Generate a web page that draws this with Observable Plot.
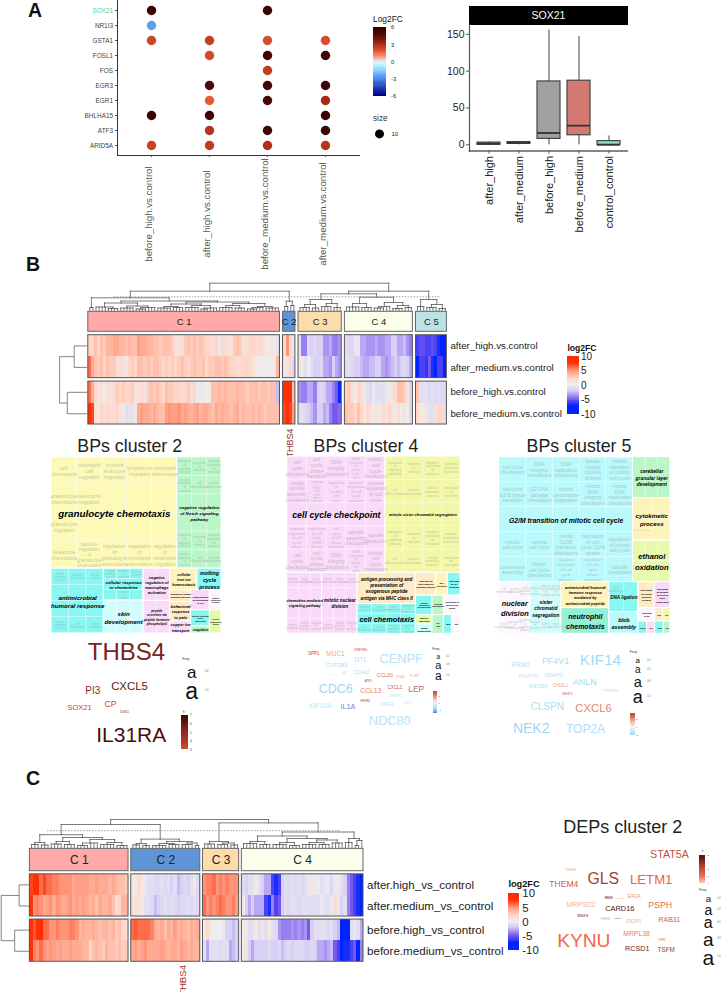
<!DOCTYPE html>
<html><head><meta charset="utf-8">
<script src="https://cdn.jsdelivr.net/npm/d3@7"></script>
<script src="https://cdn.jsdelivr.net/npm/@observablehq/plot@0.6"></script>
<style>
html,body{margin:0;padding:0;background:#fff}
#page{position:relative;width:723px;height:992px;overflow:hidden;font-family:"Liberation Sans",Arial,sans-serif}
#page svg{position:absolute;left:0;top:0;background:transparent;font-family:"Liberation Sans",Arial,sans-serif;pointer-events:none}
.lab{position:absolute;white-space:nowrap;line-height:1}
</style></head><body><div id="page"></div>
<script>
// ---------- Panel A data
const genes=["SOX21","NR1I3","GSTA1","FOSL1","FOS","EGR3","EGR1","BHLHA15","ATF3","ARID5A"];
const contrasts=["before_high.vs.control","after_high.vs.control","before_medium.vs.control","after_medium.vs.control"];
const beforeHighFC=[5.5,-2.6,2.2,null,null,null,null,5.5,null,2.3];
const afterHighFC=[null,null,2.4,2.1,null,4.8,1.7,5.4,2.7,2.5];
const beforeMediumFC=[5.5,null,2,5.3,2.5,5.2,5,null,5.3,2.8];
const afterMediumFC=[null,null,2,5.3,null,5.3,3,5.5,5.3,2.7];
const boxGroups=["after_high","after_medium","before_high","before_medium","control_control"];
const boxLo=[0,0,0,0,0],boxQ1=[0,1.5,8,13,0],boxMed=[1.5,2.5,16,26,0],boxQ3=[3,3.7,86,87,5],boxHi=[4,4,156,147,12];
const boxFill=["#999","#999","#a0a0a0","#d57a72","#8fe3b4"];
// ---------- Panel B data
const rowsB=["after_high.vs.control","after_medium.vs.control","before_high.vs.control","before_medium.vs.control"];
const clusterNamesB=["C 1","C 2","C 3","C 4","C 5"];
const b_c1=[
[2,2,3,2,3,2.5,3.5,3.5,4,4,3.5,3.5,3,3.5,3,3,4.5,4,4,3.5,3.5,3,3,2.5,3,3,3,2.5,1,1,1.5,2.5,3,2.5,3,2.5,3,2.5,2,2,1.5,2,-.5,2,1.5,1,1,2.5,3,2.5,1,1.5,2,2,1.5,2,1.5,.8,.5,.8,.5,-.8],
[6,4,3,2.5,3,2,3,2.5,2.5,1,1.5,1,.8,2,2.5,2,3,3,2.5,3,2.5,3,3,2.5,2,2.5,2,2.5,2,2.5,3,2.5,2,2.5,3,2.5,2.5,3,2,2.5,2.5,3,3,2.5,3,2.5,2,2,1.5,1.5,2,2,1.5,1,.3,.3,.2,.3,.2,.2,.3,3.5],
[6,4,2,.8,1,.5,1,1,2,2.5,2,2.5,2,2,2.5,1,1,1.5,1,2.5,3,2.5,3,2.5,2,3,2.5,2.5,2,2,1.5,2,2.5,1.5,2,-.3,-.5,.5,0,.5,3,3,3.5,3,3.5,3,3,3,3.5,3,3,2.5,3,3,3,2.5,3,3,2.5,3,3,-2.5],
[9,7,1,.8,2,1.5,2,1.5,1.5,2,1,.5,-1,-.8,1.5,-.5,4,4.5,4,4,3.5,4,3.5,3,3,4.5,5,4.5,4.5,5,4,4.5,4,3.5,4,4.5,3.5,4,4,3.5,3,4,3.5,4,3.5,3.5,3,3.5,4,3,3.5,3,3,3.5,3,3.5,3,2.5,3,3,3,3]];
const b_c2=[[1.5,5,2,-.5],[.5,1,2,-1.5],[7.5,8.5,8,3],[7,8,7,4.5]];
const b_c3=[
[-1,-4,-4,-1.5,-2,-1.5,-2,-2,-3.5,-3.5,-3,-4,-4,-3.5],
[-.5,.5,-1,0,-1,-2,-2,-1.5,-3,-3,-3.5,-2,-3,-3.5],
[-3.5,-4,-4,-3,-3,-4,-2,-1.5,-2,-3,-3,-4,-5,-9],
[-1,-1,-1.5,-2,-2.5,-3.5,-2,-2,-3,-2.5,-4,-5,-5,-4.5]];
const b_c4=[
[-1,-1.5,-1.5,-.5,-.5,-3,-3,-3.5,-3.5,-3.5,-3,-3.5,-3.5,-3,-3,-2,-2,-3,-3,-2.5,-3.5,-4],
[-1,-1,-1.5,-2,-2,-2.5,-3,-3,-2.5,-2.5,-2,-2,-3,-3.5,-3,-2.5,-2,-2.5,-2,-1.5,-2,-3],
[2,2.5,1,.5,2,1.5,-.5,-1,-1.5,-.5,-1,-1,-1,-.5,.5,1,1.5,3,3,2.5,1,-1.5],
[3,2.5,2.5,2,3,2,.5,2,1,.5,1,.5,1.5,1,2,1,.5,1.5,.5,1,0,-1.5]];
const b_c5=[
[-6,-5.5,-5.5,-6,-6,-5.5,-6,-7,-9,-8],
[-9,-6,-6,-6.5,-5,-7,-9,-6,-6,-9],
[3,-1,-1,-1,-1.5,-1,-1.5,-1,-1.5,-1.5],
[2,.5,.5,1,-1,-1,1,2,2,-1]];
// dendrograms: [height, child, child...]; a plain number is that many leaves
const treeB=[27.3,[19.3,[12.7,[3,2],[9.5,[7.5,[3.5,4,[2,2,2]],[4.5,[2.5,3,2],[3,[1.5,2,2],3]]],[8.5,[6.5,[4,[2.5,2,3],[3,2,2]],[5,[3,3,2],[2.5,[1.5,2,1],3]]],[7,[5,[3,2,3],[2.5,2,2]],[4,[3,[1.5,2,2],2],[2.5,3,2]]]]]],[9.3,[4,2],[5,2]]],[19.3,[16.7,[11,[6,[3,2,2],[2.5,2,1]],[7,[4,2,2],[3,1,2]]],[13.3,[7,[3.5,3,2],[3,2,2]],[8,[4,[2.5,2,2],2],[5,[2,2,2],[3,2,1]]]]],[11,[4,2,1],[6,[3,2,2],[2,2,1]]]]];
const sideTreeB=[27.6,[13,1,1],[19.9,1,1]];
// ---------- Panel C data
const rowsC=["after.high_vs_control","after.medium_vs_control","before.high_vs_control","before.medium_vs_control"];
const clusterNamesC=["C 1","C 2","C 3","C 4"];
const c_c1=[
[7,8,8,6,7,6,6,5.5,5.5,5,5,5,5,4,4.5,4.5,4.5,4.5,4,4,4.5,4,4,4,3.5,4,3.5,3,3,2.5],
[8,5,5.5,5,4,4.5,5,4,5,4.5,4,4.5,5,4,4.5,4,4.5,4,3.5,4,3,4,3.5,3.5,4,3,1.5,2,3.5,3.5],
[8,6.5,8,9,6,6,5,5,5.5,5,5,5,5.5,5.5,5,3.5,4,3.5,3.5,4,3.5,3,3.5,3.5,3,3.5,2.5,3,2,1.5],
[8,5.5,5,6,5,4.5,5,4.5,4,4.5,4,4,4.5,4,4,4,3.5,3.5,2,3,3.5,3,2.5,3.5,3,3,2.5,3,2.5,2.5]];
const c_c2=[
[.5,.5,1.5,.5,-.5,-1,-1,-1.5,-1.5,-1,-1.5,-1,-2,-1,-2.5,-2,-1.5,-2,-1,.5,-1.5],
[1,1,1,.5,-1,-1,-1.5,-2.5,-2,-1.5,-1,-1.5,-1,-1.5,-2,-1.5,-1.5,-1,-1.5,-1,-1.5],
[6,6.5,6,6,6,6,5.5,4,3.5,4,3,4,3.5,4.5,3.5,4,3.5,3,4,3.5,4],
[4,4.5,4,4.5,5,4,4,4,4,4.5,4,3.5,4,4,3.5,4.5,4,3.5,4,3.5,3.5]];
const c_c3=[
[5,5.5,5.5,6,5,5.5,5,5.5,5,5,5],
[6,5,5.5,5,5.5,6,5.5,5,5,5.5,4.5],
[.5,2,.5,0,0,0,-.5,-2,-2,-2.5,-2],
[-1,-3,-1,-1,-1,-1.5,-1,-1,-3,-2.5,-2]];
const c_c4=[
[-1.5,-2,-1,-1,.5,-1,-2,-3,-3,-6,-7,-6,-2,-1,-1.5,-1,-1.5,-1,-1.5,-1,-.5,.8,-.5,.5,-1,-.5,-.5,-1.5,-.5,.5,-1,-2,-4,-5,-6,-7,-9],
[.5,-2,-3,-2,-3,-3,-3,-6,-7,-4,-6,-5,-2,-1,-1.5,-1,-1,-1.5,-1,-1,-1,-1,-1,-1,-.5,-1,-1,-.5,1.5,-.5,-2,-1,-4,-5,-6,-7,-9],
[.5,-.5,-1,-1,.5,-1,1,-1,.5,-1,-1.5,-3.5,-4,-4,-4,-3.5,-4,-3.5,-4,-3.5,-5,-2,-1,-1,-1,-1,-1.5,-1,-2,-2.5,-9,-9,-9,-1,-.5,-1,-3],
[.5,1,-2,-3,-2,-2,-2,-2,-1.5,-2,-2,-1.5,-2.5,-2,-1.5,-2,-1.5,-1.5,-1.5,-2,-2,-1.5,-2,-3,-3,-3.5,-3,-2.5,-5,-6,-8,-7,-7,-6,-5,-9,-4]];
const treeC=[28,[23,[12.8,[5,[3,2,1],[2.5,2,1]],[10,[6,[3.5,2,2],[3,2,2]],[8,[4.5,[2,2,2],3],[5,[3,3,2],[2,2,2]]]]],[8.4,[4,[2.5,2,1],[2,2,1]],[6,[4,[2,3,2],[3,2,2]],[4.5,[3,2,2],[2,1,1]]]]],[24.6,[6,[3.5,2,2],[4.5,[3,2,2],[2.5,2,1]]],[15.5,[11.5,[6,[4,3,2],[3,2,2]],[9,[5,[3,3,2],[2,2,2]],[7.5,[5,[3,3,2],[3,2,2]],[4.5,2,2]]]],[9,[5,2,1],[7,[2,1,1],1]]]]];
const sideTreeC=[28,[10.1,1,1],[14.5,1,1]];
const clusterFills=["#ffa9a9","#5f94d6","#fcdcab","#fbfeea","#bbe3e6"];
// ---------- word clouds
const cl2Words=["THBS4","IL31RA","CXCL5","PI3","SOX21","CP","DLK1"];
const cl2X=[56,60.7,59,22.3,9,40,54],cl2Y=[11.7,95,45.7,50.7,67,64,71.7];
const cl2Size=[24,21,11.4,10,7.5,8.7,3.5],cl2Fc=[5.4,6.5,6,5,3.4,3,5.5];
const cl4Words=["SPP1","MUC1","ZNF385","DTL","CENPF","CYP1B1","CCNA2","CCL20","PDIA2","PLAT","CDC6","CCL13","CXCL1","LEP","CENPK","ATF5","EPHB1","KIF18A","IL1A","KIF11","KIF15","NDC80","UC","SIM"];
const cl4X=[13.3,35,60.3,60.3,100.7,36,60.7,84.3,100,114,35.3,70.3,94.3,115.7,94,67.7,65,19.7,47.3,86.7,107.7,89.3,44,33.3];
const cl4Y=[12.7,13.3,9,19.3,18,25,31.7,35,36.3,35.7,48.3,50.7,47.3,48.7,55.7,40.3,60.7,65.7,65.7,64,62.7,80,33,33.7];
const cl4Size=[4.6,6.5,3.6,7,12.8,5.8,4.6,5.2,3,4,12.5,6.8,4.6,8.4,3.6,3,3,6.8,7.2,5,3,12.7,3,2.5];
const cl4Fc=[3,1.5,3.3,-1.6,-1.4,-1.7,-1.6,2.4,1.4,1.4,-2,2,3,2.7,-1.5,3.5,3.6,-1.3,-3,-1.6,-1.4,-1.4,1.3,-1.2];
const cl5Words=["KIF14","PF4V1","RRM2","PKMYT1","IQGAP3","ANLN","KIF20A","CHI3L1","PTPRN","NDST1","CLSPN","CXCL6","NEK2","TOP2A"];
const cl5X=[90,45,10,18.3,43,74.3,28,49.7,100,57.3,36.7,83,20.7,75],cl5Y=[10,10.7,14.3,26,25.3,31.7,36,34.7,40,43.3,56.3,57.7,78.3,79];
const cl5Size=[15.5,8.9,6.5,5,4.8,9,5.5,4.6,4.3,3.2,10,11.3,14,12],cl5Fc=[-1.8,-1.7,-1.6,-1.4,-1.6,-1.9,-1.7,1.6,-1.7,3.2,-1.7,2,-2,-1.7];
const depWords=["STAT5A","THBS4","THEM4","GLS","LETM1","MRPS22","RBM3","DPY30","EIF2A","CARD16","PSPH","SNX9","FGFR1","RBMX","DDX5","RAB31","KYNU","MRPL38","TXP1","RCSD1","TSFM"];
const depX=[109,10,3.3,42.7,90.7,20.3,48.3,59,73.7,59.3,99.7,22,45.3,57.7,73.7,109,23.3,76,101.3,76.7,105.7];
const depY=[4.3,19,33.7,28.7,29,53.7,47.3,48,46,58,54.3,65.3,68.3,67.3,70.3,69,90,83.3,89.3,98,99.3];
const depSize=[10.7,3.6,8.6,15.8,13.2,7.3,3,2.5,4.6,7.4,8.8,4.3,3,2.5,5.6,6.9,19.2,6.8,3,7.2,6.4];
const depFc=[3,1.4,2.6,3.5,2.2,1.2,5,1.5,1.6,5,2.1,4.5,1.5,3.7,1.2,2.5,2,1.8,2.8,4.5,3.6];
// ---------- treemap terms
const Y="#fdfab8",G="#baf6c8",C="#88f7f2",LC="#cffcfc",P="#fadaf9",T="#fdeac6",Y2="#f2f8a8",TE="#96f1d4",W="#fdf6fd",Y3="#fff3bc",G2="#e8f9ae",LB="#bafafc";
const chemoTerms=["cell chemotaxis","neutrophil cell migration","myeloid leukocyte migration","lymphocyte migration","neutrophil chemotaxis","granulocyte chemotaxis","neutrophil migration","positive regulation of leukocyte chemotaxis","positive regulation of leukocyte migration","positive regulation of neutrophil chemotaxis","granulocyte migration","regulation of chemotaxis","regulation of neutrophil migration","regulation of leukocyte chemotaxis","regulation of leukocyte migration","leukocyte chemotaxis","positive regulation of granulocyte chemotaxis","regulation of granulocyte chemotaxis","regulation of neutrophil chemotaxis","regulation of neutrophil migration"];
const cycleTerms=["cell cycle checkpoint","cell cycle phase transition","DNA integrity checkpoint","G2/M transition of mitotic cell cycle","mitotic cell cycle checkpoint","mitotic spindle assembly checkpoint","regulation of mitotic cell cycle phase transition","regulation of cardiac cell cycle","positive regulation of cell cycle process","positive regulation of cell cycle","mitotic cell cycle phase transition","negative regulation of cell cycle","positive regulation of cell cycle","regulation of cell cycle process","mitotic sister separation","negative regulation of cell cycle phase","regulation of cell cycle G2/M phase","cell cycle G1/S phase transition","spindle assembly checkpoint","spindle checkpoint"];
const g2mTerms=["cell cycle checkpoint","DNA integrity checkpoint","DNA replication checkpoint","female meiotic nuclear division","mitotic transition of mitotic cell cycle","cell cycle G1/S phase transition","G2 DNA damage checkpoint","mitotic centrosome separation","mitotic DNA integrity checkpoint","mitotic DNA replication checkpoint","cell cycle phase transition","signal transduction by p53","cell cycle checkpoint","negative regulation of cell cycle","negative regulation of mitosis","mitotic cell cycle","meiotic cell cycle","mitotic G2/M transition checkpoint","regulation of cell cycle G2/M phase","regulation of mitotic cell cycle","centromere assembly","mitotic cell cycle checkpoint","negative regulation of cell cycle process","regulation of cell cycle phase transition","spindle checkpoint"];
const smallTerms=["regulation of signaling pathway","response to stimulus","negative regulation of transport","positive regulation of process","cell differentiation","protein localization","cellular metabolic process","regulation of secretion","defense response","organ development","tissue morphogenesis","segregation of chromosomes"];
const L=(f,label,s,cols,rows,ts,terms)=>({f,label,s,cols,rows,ts,terms});
const tm2=["v",[335,["h",[377,L(Y,"granulocyte chemotaxis",9.8,5,4,5.2,chemoTerms)],[133,L(G,"negative regulation\nof Notch signaling\npathway",5.2,3,6,3.2)]]],
 [195,["h",[157,L(C,"antimicrobial\nhumoral response",6.6,3,4,2.6)],[119,["v",[95,L(C,"cellular response\nto chemokine",5,3,3,2.6)],[98,L(LC,"skin\ndevelopment",6.2,3,3,2.6)]]],[80,["v",[96,L(P,"negative\nregulation of\nmacrophage\nactivation",4.4,2,2,2.6)],[97,L(P,"peptide\nsecretion via\npeptide hormone\nphospholipid",3.2,2,3,2.2)]]],
 [154,["v",[64,["h",[82,L(Y3,"cellular\niron ion\nhomeostasis",3.8)],[72,L(C,"molting\ncycle\nprocess",6.2)]]],
   [129,["h",[63,["v",[35,L(T,"chemokine receptor\nmediated signaling",2.3)],[58,L(T,"behavioral\nresponse\nto pain",5)],[36,L(P,"copper ion\ntransport",4.4)]]],[56,["v",[60,L(P,"establishment\nof localization\nin cell",2.4)],[48,L(C,"positive regulation\nof cell\nproliferation",2.4)],[21,L(G,"coagulation",2.8)]]],[35,["v",[60,L(W,"negative\nregulation of\ncell death",2.4)],[69,L(G2,"cellular\nresponse to\nstress",2.2)]]]]]]]]]];
const tm4=["v",[347,["h",[295,L(P,"cell cycle checkpoint",8.9,5,5,4.9,cycleTerms)],[225,L(Y2,"mitotic sister chromatid segregation",4.7,4,5,3.4)]]],
 [182,["h",[105,L(P,"chemokine-mediated\nsignaling pathway",4.2,3,4,2.6)],[106,L(P,"mitotic nuclear\ndivision",5,3,4,2.6)],[175,["v",[93,L(T,"antigen processing and\npresentation of\nexogenous peptide\nantigen via MHC class II",4.9)],[89,L(C,"cell chemotaxis",7.8,4,3,2.6)]]],
 [134,["v",[68,["h",[60,L(T,"regulation of\nsmall molecule\nmetabolic process",2.2)],[36,L(Y3,"DNA\nsynthesis",2.2)],[38,L(C,"regulation\nof cell\nadhesion",2.2)]]],[58,["h",[50,L(C,"negative\nregulation of\ncell proliferation",2.2)],[34,L(G,"cartilage\ndevelopment",2.2)],[50,L(W,"regulation of\nintracellular\nsignal",2.2)]]],[56,["h",[50,["v",[28,L(G2,"positive\nregulation",2.2)],[28,L(LC,"blood\ncoagulation",2.4)]]],[34,L(G,"cell\nfate",2.2)],[25,L(C,"lipid",2.2)],[25,L(W,"ion",2.2)]]]]]]]];
const tm5=["v",[375,["h",[400,L(LB,"G2/M transition of mitotic cell cycle",6.9,5,5,5,g2mTerms)],[112,["v",[123,L(G,"cerebellar\ngranular layer\ndevelopment",4.9,3,2,2.2)],[127,L(Y3,"cytokinetic\nprocess",6.2,2,2,2.2)],[125,L(G2,"ethanol\noxidation",7.6,3,2,2.2)]]]]],
 [155,["h",[93,L(W,"nuclear\ndivision",7.4,3,3,2.8)],[93,L(LC,"sister\nchromatid\nsegregation",4.8,3,3,2.6)],[143,["v",[78,L(Y3,"antimicrobial humoral\nimmune response\nmediated by\nantimicrobial peptide",3.9)],[77,L(TE,"neutrophil\nchemotaxis",7)]]],[87,["v",[90,L(C,"DNA ligation",4.6,2,2,2.6)],[65,L(LB,"blob\nassembly",5.4)]]],
 [96,["v",[78,["h",[48,L(T,"activation\nof innate\nimmune\nsystem",2.5)],[48,L(P,"regulation\nof actions\nof cells of\nother\norganisms",2.4)]]],[77,["v",[40,["h",[50,L(W,"regulation\nof ion",2)],[24,L(T,"dna",2)],[22,L(Y2,"sex",2)]]],[37,["h",[26,L(C,"tissue",2)],[24,L(P,"cell",2)],[26,L(C,"lipid",2)],[20,L(G,"rna",2)]]]]]]]]]];
// ---------- colour ramps
const dotDom=[-6,-3,-1,-.2,.2,1.5,3,4.5,6],dotRan=["#00008b","#4c8cf0","#a8ecff","#d6f8ff","#ffc5bb","#f0603a","#a82815","#5a0808","#2a0000"];
const heatDom=[-10,-7.5,-5,-2,0,2,5,7.5,10],heatRan=["#0024ff","#0024ff","#7a58ee","#d8d0f5","#eeeeee","#ffd6c8","#ff9478","#ff3008","#ff2a00"];
const cl2Dom=[3,5,7],cl2Ran=["#cc4a30","#8b2a20","#3a0505"];
const cl4Dom=[-3,-2,-1,0,1,2,3.5],cl4Ran=["#5a8cd4","#9fd5f2","#c4eef8","#f4f4f4","#f4c4b4","#e8866c","#b04030"];
const depDom=[1,2,3,4.5,5.5],depRan=["#f4c4b4","#f0694a","#c0513a","#6a1a15","#3a0a08"];

// ---------- helpers
const page=document.getElementById("page");
const put=o=>page.appendChild(Plot.plot({width:723,height:992,margin:0,x:{axis:null},y:{axis:null},...o}));
function lab(t,x,y,size,o={}){const e=document.createElement("div");e.className="lab";e.textContent=t;
 const tx=o.anchor==="middle"?"-50%":o.anchor==="end"?"-100%":"0";
 e.style.cssText+=`left:${x}px;top:${y}px;font-size:${size}px;transform:translate(${tx},-50%);color:${o.color||"#111"};font-weight:${o.bold?"bold":"normal"};`;page.appendChild(e);}
function colorbar(x0,x1,y0,y1,lo,hi,dom,ran,ticks,fs,tickDx){
 const step=(hi-lo)/60,st=d3.range(lo,hi-1e-9,step);
 put({x:{axis:null,domain:[0,1],range:[x0,x1]},y:{axis:null,domain:[lo,hi],range:[y1,y0]},color:{type:"linear",domain:dom,range:ran,clamp:true},marks:[
  Plot.rect(st,{x1:0,x2:1,y1:d=>d,y2:d=>d+step,fill:d=>d,shapeRendering:"crispEdges"}),
  Plot.text(ticks,{x:1,y:d=>d,dx:tickDx,text:d=>String(d),textAnchor:"start",fontSize:fs,fill:"#222"})]});
}
function treeSegs(tree,pos){const segs=[];let cur=0;
 (function walk(n){const h=n[0],pts=[];
  n.slice(1).forEach(k=>{if(typeof k==="number"){for(let i=0;i<k;i++){const a=pos(cur++);pts.push({a,h:0});}}else pts.push(walk(k));});
  const first=pts[0].a,last=pts[pts.length-1].a;
  segs.push({a1:first,h1:h,a2:last,h2:h});
  pts.forEach(p=>segs.push({a1:p.a,h1:h,a2:p.a,h2:p.h}));
  return {a:(first+last)/2,h};})(tree);
 return segs;}
function heatmap(cfg){
 const {clusters,names,rows,tree,sideTree,xr,yr,annot,rowGap,labelSize,annotSize,dendTop,dendBot,cut,sideX,unit}=cfg;
 const sizes=clusters.map(c=>c[0].length);
 const starts=[];let acc=0;sizes.forEach(s=>{starts.push(acc);acc+=s+unit;});const total=acc-unit;
 const rowTop=i=>i+(i>=2?rowGap:0);
 const cells=[];clusters.forEach((cl,ci)=>cl.forEach((r,ri)=>r.forEach((v,j)=>cells.push({x:starts[ci]+j,r:ri,v}))));
 const blocks=[];sizes.forEach((s,ci)=>[0,2].forEach(r=>blocks.push({x1:starts[ci],x2:starts[ci]+s,y1:rowTop(r),y2:rowTop(r+1)+1})));
 const ann=sizes.map((s,ci)=>({x1:starts[ci],x2:starts[ci]+s,name:names[ci],f:clusterFills[ci]}));
 const sc={x:{axis:null,domain:[0,total],range:xr},y:{axis:null,domain:[0,4+rowGap],range:yr}};
 put({...sc,color:{type:"linear",domain:heatDom,range:heatRan,clamp:true},marks:[
  Plot.rect(cells,{x1:"x",x2:d=>d.x+1,y1:d=>rowTop(d.r),y2:d=>rowTop(d.r)+1,fill:"v",shapeRendering:"crispEdges"}),
  Plot.rect(blocks,{x1:"x1",x2:"x2",y1:"y1",y2:"y2",stroke:"#555",strokeWidth:1,fill:"none"}),
  Plot.rect(ann,{x1:"x1",x2:"x2",y1:annot[0],y2:annot[1],fill:d=>d.f,stroke:"#666",strokeWidth:1}),
  Plot.text(ann,{x:d=>(d.x1+d.x2)/2,y:(annot[0]+annot[1])/2,text:"name",fontSize:annotSize,fill:"#222"}),
  Plot.text(rows,{x:total,y:(d,i)=>rowTop(i)+.5,text:d=>d,dx:3.5,textAnchor:"start",fontSize:labelSize,fill:"#222"})]});
 // leaf index -> column centre, with the gaps between clusters
 const leaf=i=>{let c=0;while(c<sizes.length-1&&i>=d3.sum(sizes.slice(0,c+1)))c++;return starts[c]+(i-d3.sum(sizes.slice(0,c)))+.5;};
 const segs=treeSegs(tree,leaf);
 put({x:sc.x,y:{axis:null,domain:[0,dendBot-dendTop],range:[dendBot,dendTop]},marks:[
  Plot.link(segs,{x1:"a1",y1:"h1",x2:"a2",y2:"h2",stroke:"#444",strokeWidth:.7,strokeLinecap:"square"}),
  Plot.ruleY([cut[2]],{x1:cut[0],x2:cut[1],stroke:"#777",strokeWidth:.7,strokeDasharray:"1.5,1.5"})]});
 const s2=treeSegs(sideTree,i=>rowTop(i)+.5);
 put({y:sc.y,x:{axis:null,domain:[0,sideX[0]-sideX[1]],range:[sideX[0],sideX[1]]},marks:[
  Plot.link(s2,{x1:"h1",y1:"a1",x2:"h2",y2:"a2",stroke:"#666",strokeWidth:.8})]});
}
function wrap(s,n){const out=[];let l="";s.split(" ").forEach(w=>{if((l+" "+w).trim().length>n&&l){out.push(l);l=w;}else l=(l+" "+w).trim();});out.push(l);return out;}
function treemap(tree,x0,x1,y0,y1){
 const rects=[],subs=[],faint=[],labels=[];const Wpx=x1-x0,Hpx=y1-y0;let idx=0;
 (function lay(n,a0,b0,a1,b1){
  if(!Array.isArray(n)){rects.push({a0,b0,a1,b1,f:n.f});
   const ls=n.label.split("\n"),mx=d3.max(ls,l=>l.length);
   // a big label shrinks to fit its own cell
   const s=Math.min(n.s,(a1-a0)*Wpx/(mx*.53),(b1-b0)*Hpx/(ls.length*1.35));
   const lw=mx*s*.56/Wpx,lh=ls.length*s*1.35/Hpx,la=(a0+a1)/2,lb=(b0+b1)/2;
   if(n.cols){const list=n.terms||smallTerms;const cw=(a1-a0)/n.cols,rh=(b1-b0)/n.rows;
    for(let r=0;r<n.rows;r++)for(let c=0;c<n.cols;c++){
     const t=list[(n.terms?r*n.cols+c:idx++)%list.length];
     subs.push({a0:a0+c*cw,a1:a0+(c+1)*cw,b0:b0+r*rh,b1:b0+(r+1)*rh,f:n.f});
     const w=wrap(t,Math.max(4,Math.floor(cw*Wpx/(n.ts*.52))));
     const ts=Math.min(n.ts,rh*Hpx/(w.length*1.18));
     const fa=a0+(c+.5)*cw,fb=b0+(r+.5)*rh,fw=d3.max(w,x=>x.length)*ts*.5/Wpx,fh=w.length*ts*1.15/Hpx;
     if(Math.abs(fa-la)<(fw+lw)/2&&Math.abs(fb-lb)<(fh+lh)/2)continue; // hidden under the big label
     faint.push({a:fa,b:fb,t:w.join("\n"),s:ts});}}
   labels.push({a:la,b:lb,t:n.label,s});return;}
  const d=n[0],kids=n.slice(1),tot=d3.sum(kids,k=>k[0]);let p=0;
  kids.forEach(k=>{const f0=p/tot,f1=(p+k[0])/tot;p+=k[0];
   if(d==="h")lay(k[1],a0+(a1-a0)*f0,b0,a0+(a1-a0)*f1,b1);else lay(k[1],a0,b0+(b1-b0)*f0,a1,b0+(b1-b0)*f1);});
 })(tree,0,0,1,1);
 put({x:{axis:null,domain:[0,1],range:[x0,x1]},y:{axis:null,domain:[0,1],range:[y0,y1]},marks:[
  Plot.rect(rects,{x1:"a0",x2:"a1",y1:"b0",y2:"b1",fill:"f",stroke:"#fff",strokeWidth:1}),
  Plot.rect(subs,{x1:"a0",x2:"a1",y1:"b0",y2:"b1",fill:"none",stroke:"#fff",strokeWidth:.4,strokeOpacity:.7}),
  Plot.text(faint,{x:"a",y:"b",text:"t",fontSize:"s",fill:"#8c8c8c",fillOpacity:.5,lineHeight:1.15}),
  Plot.text(labels,{x:"a",y:"b",text:"t",fontSize:"s",fill:"#000",fontWeight:"bold",fontStyle:"italic",lineHeight:1.35})]});
}
function cloud(words,X,Y_,S,F,ox,oy,dom,ran){
 put({x:{axis:null,domain:[0,140],range:[ox,ox+140]},y:{axis:null,domain:[0,110],range:[oy,oy+110]},color:{type:"linear",domain:dom,range:ran,clamp:true},marks:[
  Plot.text(words,{x:(d,i)=>X[i],y:(d,i)=>Y_[i],text:d=>d,fontSize:(d,i)=>S[i],fill:(d,i)=>F[i]})]});
}
function freq(x,title,titleY,as,labX,labels){
 lab("Freq",title,titleY,3.4,{anchor:"middle",color:"#333"});
 as.forEach((a,i)=>{lab("a",x,a[0],a[1],{anchor:"middle",color:"#111"});lab(labels[i],labX,a[0],2.6,{anchor:"middle",color:"#777"});});
}

// ---------- Panel A dot plot
const dots=[];[beforeHighFC,afterHighFC,beforeMediumFC,afterMediumFC].forEach((col,c)=>col.forEach((v,g)=>{if(v!==null)dots.push({c:contrasts[c],g:genes[g],v});}));
put({marginLeft:117,marginRight:364,marginTop:0,marginBottom:837,
 x:{type:"point",domain:contrasts,padding:.586,axis:null},y:{type:"point",domain:genes,padding:.59,axis:null},
 color:{type:"linear",domain:dotDom,range:dotRan,clamp:true},marks:[
 Plot.frame({anchor:"left",stroke:"#333"}),Plot.frame({anchor:"bottom",stroke:"#333"}),
 Plot.axisX({tickSize:2,tickFormat:()=>"",label:null,stroke:"#555"}),
 Plot.axisY({tickSize:2,tickFormat:()=>"",label:null,stroke:"#555"}),
 Plot.text(genes,{y:d=>d,frameAnchor:"left",dx:-4.5,text:d=>d,textAnchor:"end",fontSize:6.4,fill:d=>d==="SOX21"?"#3fd4b4":"#444"}),
 Plot.text(contrasts,{x:d=>d,frameAnchor:"bottom",dy:58.5,rotate:-90,text:d=>d,fontSize:9.7,fill:"#555"}),
 Plot.dot(dots,{x:"c",y:"g",r:4.7,fill:"v"})]});
lab("Log2FC",373,19,8.4);
colorbar(373,386,27,96,-6,6,dotDom,dotRan,[6,3,0,-3,-6],5.8,4.5);
lab("size",373,118.5,8.2,{color:"#333"});
put({x:{axis:null,domain:[0,1],range:[379,420]},y:{axis:null,domain:[0,1],range:[133.4,150]},marks:[
 Plot.dot([10],{x:0,y:0,r:4.5,fill:"#000"}),Plot.text([10],{x:0,y:0,dx:12,text:d=>String(d),textAnchor:"start",fontSize:6,fill:"#222"})]});
lab("A",35,10.5,19.5,{anchor:"middle",bold:true,color:"#111"});

// ---------- Panel A box plot
const boxes=boxGroups.map((g,i)=>({g,lo:boxLo[i],q1:boxQ1[i],med:boxMed[i],q3:boxQ3[i],hi:boxHi[i],f:boxFill[i]}));
put({marginLeft:469,marginRight:96,marginTop:6,marginBottom:968,x:{axis:null,domain:[0,1]},y:{axis:null,domain:[0,1]},marks:[
 Plot.frame({fill:"#000",stroke:"#000"}),Plot.text(["SOX21"],{frameAnchor:"middle",fill:"#fff",fontSize:10.5})]});
put({marginLeft:469,marginRight:96,marginTop:24,marginBottom:841.5,
 x:{type:"band",domain:boxGroups,paddingInner:.243,paddingOuter:.2215,axis:null},y:{domain:[-8.4,163.3],axis:null},marks:[
 Plot.frame({anchor:"left",stroke:"#555",strokeWidth:1.2}),Plot.frame({anchor:"bottom",stroke:"#111",strokeWidth:1.2}),
 Plot.ruleX(boxes,{x:"g",y1:"lo",y2:"hi",stroke:"#777",strokeWidth:1.4}),
 Plot.barY(boxes,{x:"g",y1:"q1",y2:"q3",fill:"f",stroke:"#444",strokeWidth:1.2}),
 Plot.tickY(boxes,{x:"g",y:"med",stroke:"#333",strokeWidth:1.8}),
 Plot.axisY({ticks:[0,50,100,150],tickSize:3,fontSize:10.5,label:null,tickPadding:2,fill:"#222",stroke:"#555"}),
 Plot.axisX({tickRotate:-90,tickSize:3,fontSize:11,label:null,tickPadding:2,fill:"#222",stroke:"#555"})]});

// ---------- Panel B
lab("B",33,265,19.5,{anchor:"middle",bold:true});
heatmap({clusters:[b_c1,b_c2,b_c3,b_c4,b_c5],names:clusterNamesB,rows:rowsB,tree:treeB,sideTree:sideTreeB,xr:[87.8,446.4],yr:[334.7,424],annot:[-1.09,-.158],rowGap:.16,labelSize:9.7,annotSize:9.5,dendTop:282.7,dendBot:310,cut:[8.4,114,13.7],sideX:[86.7,59.1],unit:1});
lab("log2FC",567.4,348,8.6,{bold:true});
colorbar(567.4,578.5,356,414,-10,10,heatDom,heatRan,[10,5,0,-5,-10],10,2);
put({x:{axis:null,domain:[0,1],range:[289.5,300]},y:{axis:null,domain:[0,1],range:[428,440]},marks:[
 Plot.text(["THBS4"],{x:0,y:0,rotate:-90,textAnchor:"end",text:d=>d,fontSize:9,fill:"#8f2f28"})]});
[["BPs cluster 2",129.7],["BPs cluster 4",366],["BPs cluster 5",579]].forEach(([t,x])=>lab(t,x,446.7,17.8,{anchor:"middle",color:"#222"}));
treemap(tm2,51,221,456.7,633);
treemap(tm4,286.7,460,456,633.3);
treemap(tm5,498.7,670,456.7,633.3);
cloud(cl2Words,cl2X,cl2Y,cl2Size,cl2Fc,70,640,cl2Dom,cl2Ran);
cloud(cl4Words,cl4X,cl4Y,cl4Size,cl4Fc,300,640,cl4Dom,cl4Ran);
cloud(cl5Words,cl5X,cl5Y,cl5Size,cl5Fc,510,650,cl4Dom,cl4Ran);
freq(191.7,185.7,660,[[672,17],[691,23]],206.7,["0.6","1.0"]);
colorbar(180.7,188,715,749.3,3,7,cl2Dom,cl2Ran,[7,6,5,4,3],2.8,1.5);
lab("fc",182.7,711.7,3,{color:"#333"});
freq(438.3,435.7,650,[[656.5,6.5],[665,11],[676,12]],447.7,["0.2","0.6","1.0"]);
colorbar(433.3,437.3,691,712.7,-3,3.5,cl4Dom,cl4Ran,[2,0,-2],2,1);
freq(637.7,633.3,653.3,[[660.7,8],[669.7,10],[681.7,14.5],[696.7,18]],649,["0.2","0.4","0.6","1.0"]);
colorbar(630.3,634.7,712.7,735,-2,3.5,cl4Dom,cl4Ran,[2,0,-2],2,1);

// ---------- Panel C
lab("C",33,779,19.5,{anchor:"middle",bold:true});
heatmap({clusters:[c_c1,c_c2,c_c3,c_c4],names:clusterNamesC,rows:rowsC,tree:treeC,sideTree:sideTreeC,xr:[29.4,363],yr:[873.8,961.3],annot:[-1.204,-.147],rowGap:.142,labelSize:11.6,annotSize:12,dendTop:819,dendBot:847,cut:[5.4,94.6,16.8],sideX:[28.7,.7],unit:.82});
lab("log2FC",508.4,885,9.2,{bold:true});
colorbar(508.4,519.3,893.3,950,-10,10,heatDom,heatRan,[10,5,0,-5,-10],11.4,2.5);
put({x:{axis:null,domain:[0,1],range:[182.6,190]},y:{axis:null,domain:[0,1],range:[964.5,980]},marks:[
 Plot.text(["THBS4"],{x:0,y:0,rotate:-90,textAnchor:"end",text:d=>d,fontSize:9.6,fill:"#a83a30"})]});
lab("DEPs cluster 2",622.7,827.3,18,{anchor:"middle",color:"#222"});
cloud(depWords,depX,depY,depSize,depFc,560,850,depDom,depRan);
colorbar(699,705,855,882.7,1,5,depDom,depRan,[5,4,3,2,1],2.2,2);
lab("fc",701.7,851.7,2.6,{color:"#333"});
freq(708.3,702.7,891.3,[[899.3,9.6],[910,14],[923.3,16],[939,19],[957.3,21]],719,["0.2","0.4","0.6","0.8","1.0"]);
</script></body></html>
